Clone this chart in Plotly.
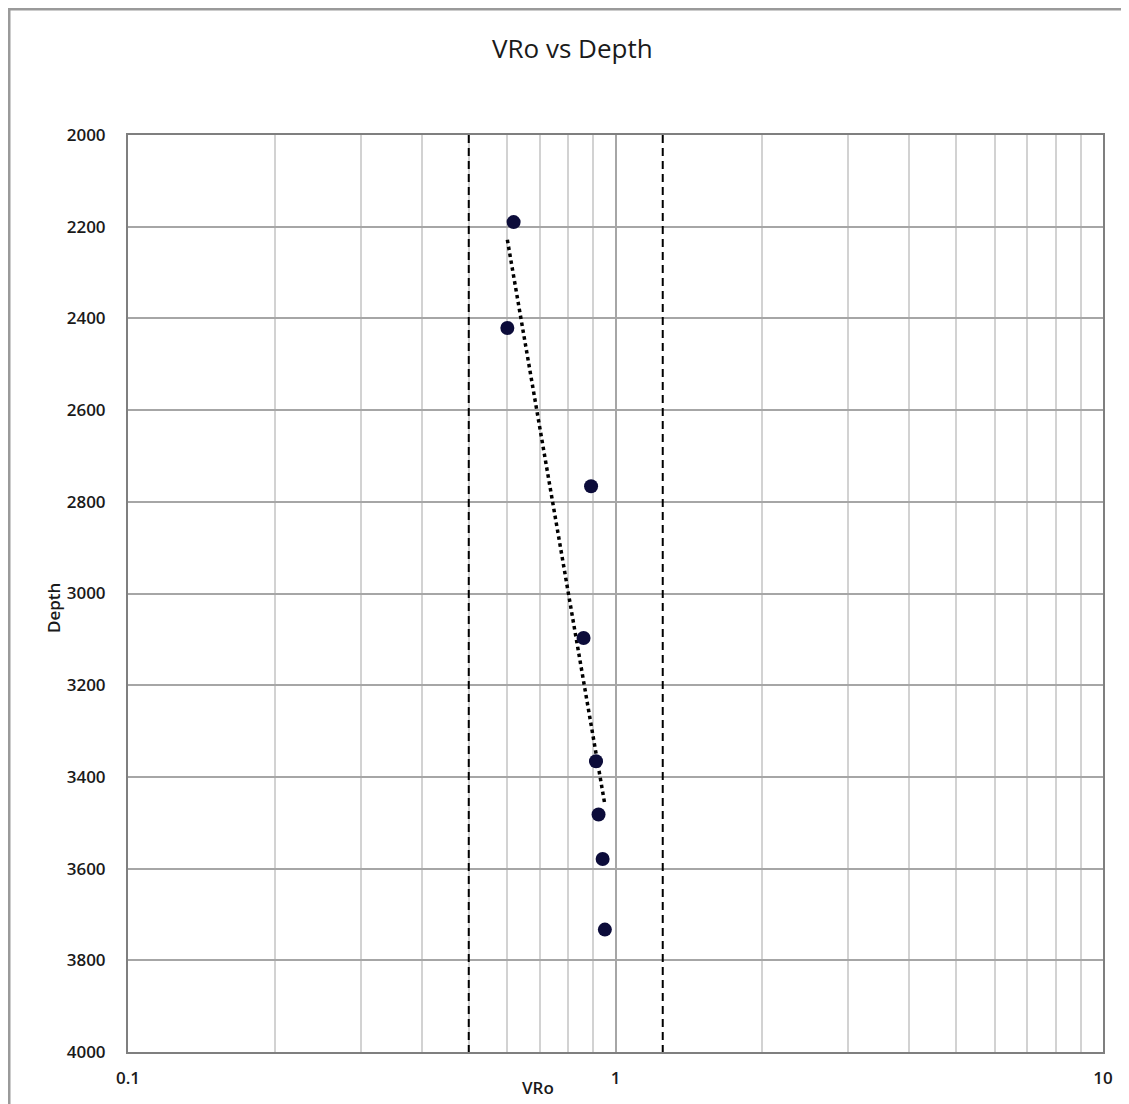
import numpy as np
import plotly.graph_objects as go

# ---- data ----
vro = [0.618, 0.600, 0.891, 0.860, 0.912, 0.923, 0.941, 0.951]
depth = [2190, 2421, 2766, 3097, 3366, 3482, 3579, 3733]
vro_limits = [0.5, 1.25]          # dashed vertical reference lines
depth_range = [2000, 4000]
x_major = [0.1, 1, 10]
x_major_text = ["0.1", "1", "10"]
x_minor = [0.2, 0.3, 0.4, 0.5, 0.6, 0.7, 0.8, 0.9, 2, 3, 4, 5, 6, 7, 8, 9]

FONT = "Open Sans"
OFF = 8                      # default page body margin
W, H = 1129 - OFF, 1104 - OFF
PL, PT, PR, PB = 128, 135, 1103, 1052   # plot area on screen
L, T = PL - OFF, PT - OFF
R = OFF + W - PR
B = OFF + H - PB
pw, ph = PR - PL, PB - PT


def px(x):
    return (x - PL) / pw


def py(y):
    return (PB - y) / ph


fig = go.Figure()

# logarithmic trendline (Excel-style) fitted to all points
lx = np.log(np.array(vro))
a, b = np.polyfit(lx, np.array(depth), 1)
xt = np.geomspace(min(vro), max(vro), 50)
yt = a * np.log(xt) + b
fig.add_trace(go.Scatter(x=xt, y=yt, mode="lines",
                         line=dict(color="black", width=3.5, dash="dot"),
                         showlegend=False, hoverinfo="skip"))

# dashed reference lines
for v in vro_limits:
    fig.add_trace(go.Scatter(x=[v, v], y=depth_range, mode="lines",
                             line=dict(color="black", width=2, dash="8px,5px"),
                             showlegend=False, hoverinfo="skip"))

# data points
fig.add_trace(go.Scatter(x=vro, y=depth, mode="markers",
                         marker=dict(size=14, color="#0c0c3a"),
                         showlegend=False))

tickfont = dict(family=FONT, size=17, color="#1a1a1a", weight=600)

fig.update_xaxes(
    type="log", range=[-1, 1],
    tickmode="array", tickvals=x_major, ticktext=x_major_text,
    showgrid=True, gridcolor="#a6a6a6", gridwidth=2,
    minor=dict(tickmode="array", tickvals=x_minor, showgrid=True,
               gridcolor="#d2d2d2", gridwidth=2, ticklen=0),
    showline=True, mirror=True, linecolor="#7f7f7f", linewidth=2,
    ticks="", ticklabelstandoff=10, tickfont=tickfont,
    zeroline=False,
)
fig.update_yaxes(
    range=[depth_range[1], depth_range[0]],
    tickmode="linear", tick0=2000, dtick=200,
    showgrid=True, gridcolor="#a6a6a6", gridwidth=2,
    showline=True, mirror=True, linecolor="#7f7f7f", linewidth=2,
    ticks="", ticklabelstandoff=17, tickfont=tickfont,
    zeroline=False,
)

fig.add_annotation(text="VRo vs Depth", xref="paper", yref="paper",
                   x=px(572), y=py(48),
                   showarrow=False, xanchor="center", yanchor="middle",
                   font=dict(family=FONT, size=26, color="#1a1a1a", weight=500))
fig.add_annotation(text="VRo", xref="paper", yref="paper",
                   x=px(538), y=py(1087),
                   showarrow=False, xanchor="center", yanchor="middle",
                   font=dict(family=FONT, size=17, color="#1a1a1a", weight=600))
fig.add_annotation(text="Depth", xref="paper", yref="paper",
                   x=px(53), y=py(608), textangle=-90,
                   showarrow=False, xanchor="center", yanchor="middle",
                   font=dict(family=FONT, size=17, color="#1a1a1a", weight=600))

# outer chart-area frame
fig.add_shape(type="rect", xref="paper", yref="paper",
              x0=px(9), x1=px(1140), y0=py(1115), y1=py(9),
              line=dict(color="#9a9a9a", width=3), layer="below")

fig.update_layout(
    width=W, height=H,
    margin=dict(l=L, r=R, t=T, b=B),
    paper_bgcolor="white", plot_bgcolor="white",
    showlegend=False,
)

fig.write_html("out.html")
